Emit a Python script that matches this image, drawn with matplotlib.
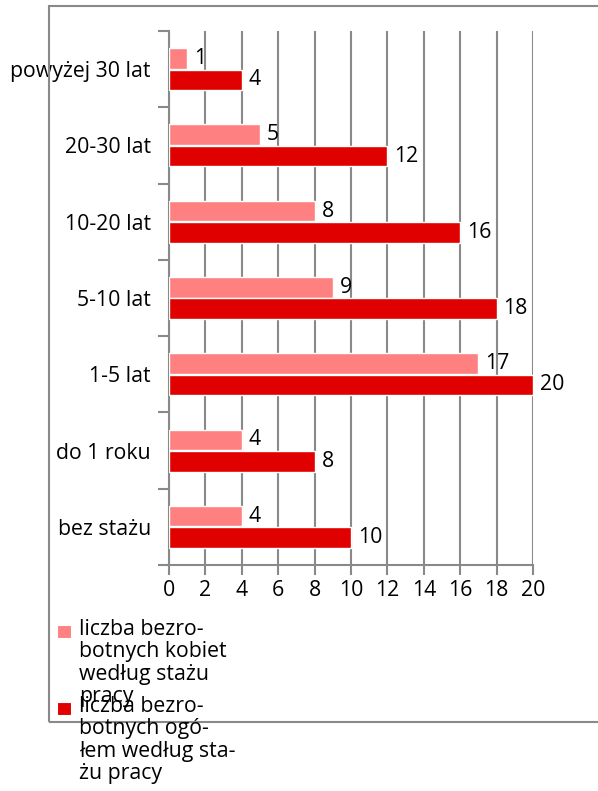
import matplotlib
matplotlib.use("Agg")
import matplotlib.pyplot as plt
import numpy as np
from matplotlib.patches import Rectangle

categories = ["bez stażu", "do 1 roku", "1-5 lat", "5-10 lat", "10-20 lat", "20-30 lat", "powyżej 30 lat"]
women = [4, 4, 17, 9, 8, 5, 1]
total = [10, 8, 20, 18, 16, 12, 4]
xticks = list(range(0, 21, 2))
legend_labels = ["liczba bezro-\nbotnych kobiet\nwedług stażu\npracy",
                 "liczba bezro-\nbotnych ogó-\nłem według sta-\nżu pracy"]

plt.rcParams['font.family'] = ['Open Sans', 'DejaVu Sans']
FS = 15.3
GRAY = "#898989"
PINK = "#FF8080"
RED = "#E00000"

fig = plt.figure(figsize=(5.98, 7.91), dpi=100)
# outer frame
fig.patches.append(Rectangle((49/598, 1-722/791), 560/598, (722-6)/791, transform=fig.transFigure,
                             fill=False, edgecolor=GRAY, linewidth=1.5))

ax = fig.add_axes([169/598, 1-565/791, (533-169)/598, (565-31)/791])
y = np.arange(len(categories))
off = 0.14
h = 0.27
b1 = ax.barh(y + off, women, height=h, color=PINK, edgecolor="white", linewidth=1, zorder=3)
b2 = ax.barh(y - off, total, height=h, color=RED, edgecolor="white", linewidth=1, zorder=3)
for bars, vals in ((b1, women), (b2, total)):
    for rect, v in zip(bars, vals):
        ax.annotate(str(v), (v, rect.get_y() + rect.get_height()/2), xytext=(5, 0),
                    textcoords="offset points", va="center", ha="left", fontsize=FS, color="black")

ax.set_xlim(0, 20)
ax.set_ylim(-0.5, len(categories) - 0.5)
ax.set_xticks(xticks)
ax.set_xticklabels([str(t) for t in xticks], fontsize=FS)
ax.set_yticks(y)
ax.set_yticklabels(categories, fontsize=FS)
ax.set_yticks(np.arange(-0.5, len(categories)), minor=True)
ax.tick_params(axis='y', which='major', length=0, pad=13)
ax.tick_params(axis='y', which='minor', length=8, width=1.5, color=GRAY, direction='out')
ax.tick_params(axis='x', which='major', length=7, width=1.5, color=GRAY, direction='out', pad=4)
ax.grid(axis='x', color=GRAY, linewidth=1.5, zorder=0)
ax.set_axisbelow(True)
for s in ("top", "right"):
    ax.spines[s].set_visible(False)
for s in ("left", "bottom"):
    ax.spines[s].set_color(GRAY)
    ax.spines[s].set_linewidth(1.5)

# legend (manual, overlapping as in reference)
leg_tops = [624, 701]
for top, col, lab in zip(leg_tops, [PINK, RED], legend_labels):
    fig.patches.append(Rectangle((57/598, 1-(top+14)/791), 14/598, 13/791, transform=fig.transFigure,
                                 facecolor=col, edgecolor="white", linewidth=0.8))
    fig.text(79/598, 1-(top-5)/791, lab, fontsize=FS, va="top", ha="left", linespacing=1.08)

fig.savefig("out.png", dpi=100)
